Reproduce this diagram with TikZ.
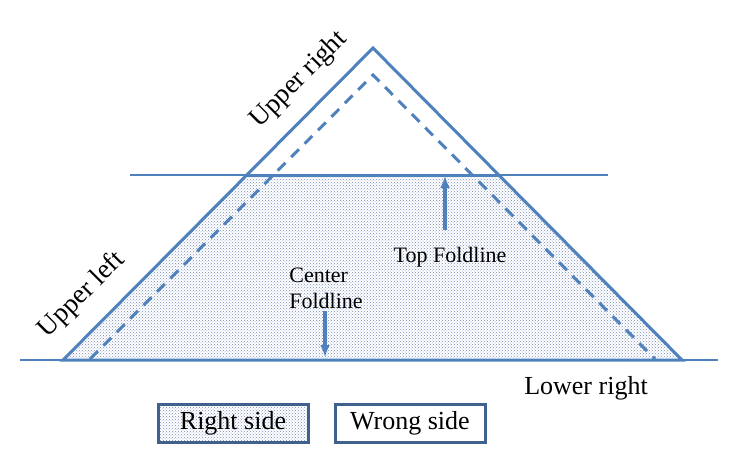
\documentclass[tikz,border=0pt]{standalone}
\usepackage{fontspec}
\setmainfont{Liberation Serif}
\usetikzlibrary{arrows.meta,patterns}

\definecolor{foldblue}{RGB}{79,129,189}
\definecolor{boxblue}{RGB}{64,96,142}
\definecolor{dotblue}{RGB}{120,142,185}

\tikzset{
  edge/.style={foldblue, line width=3pt},
  guide/.style={foldblue, line width=1.3pt},
  seam/.style={foldblue, line width=3pt, dash pattern=on 11pt off 8pt},
  pointer/.style={draw=foldblue, line width=3.6pt, -{Latex[length=12pt,width=10pt]}},
  sidetext/.style={font=\fontsize{26}{28}\selectfont},
  slanttext/.style={font=\fontsize{27}{29}\selectfont, rotate=45},
  foldtext/.style={font=\fontsize{22}{26}\selectfont, align=left},
  legend/.style={draw=boxblue, line width=3pt, minimum width=150pt, minimum height=38pt,
    font=\fontsize{26}{28}\selectfont}
}

\begin{document}
\begin{tikzpicture}[x=1pt,y=-1pt]
	\useasboundingbox (0,0) rectangle (731,460);

	% corners of the triangle
	\coordinate (apex) at (373,48);
	\coordinate (ll) at (63,360);
	\coordinate (lr) at (682,360);
	\coordinate (tl) at (247,175);
	\coordinate (tr) at (498,175);

	% right side shading
	\fill[pattern=crosshatch dots, pattern color=dotblue] (ll) -- (tl) -- (tr) -- (lr) -- cycle;

	% fold lines
	\draw[guide] (130,175) -- (608,175);
	\draw[guide] (20,360) -- (718,360);
	\draw[edge] (ll) -- (apex) -- (lr) -- cycle;
	\draw[edge] (tl) -- (tr);

	% seam line
	\coordinate (sl) at (90,359);
	\coordinate (stop) at (373,75);
	\coordinate (sr) at (655,359);
	\draw[seam] (sl) -- (stop) -- (sr);

	% labels
	\node[slanttext] (ur) at (299,80) {Upper right};
	\node[slanttext] (ul) at (82,295) {Upper left};
	\node[sidetext] (lowr) at (586,388) {Lower right};
	\node[foldtext] (topfold) at (450,257) {Top Foldline};
	\node[foldtext] (cenfold) at (326,288) {Center\\Foldline};

	% arrows
	\coordinate (topend) at (445,176);
	\coordinate (cenend) at (325,357);
	\coordinate (topstart) at (445,230);
	\coordinate (censtart) at (325,311);
	\draw[pointer] (topstart) -- (topend);
	\draw[pointer] (censtart) -- (cenend);

	% legend
	\node[legend, pattern=crosshatch dots, pattern color=dotblue] (rside) at (233,423) {Right side};
	\node[legend] (wside) at (410,423) {Wrong side};
\end{tikzpicture}
\end{document}
